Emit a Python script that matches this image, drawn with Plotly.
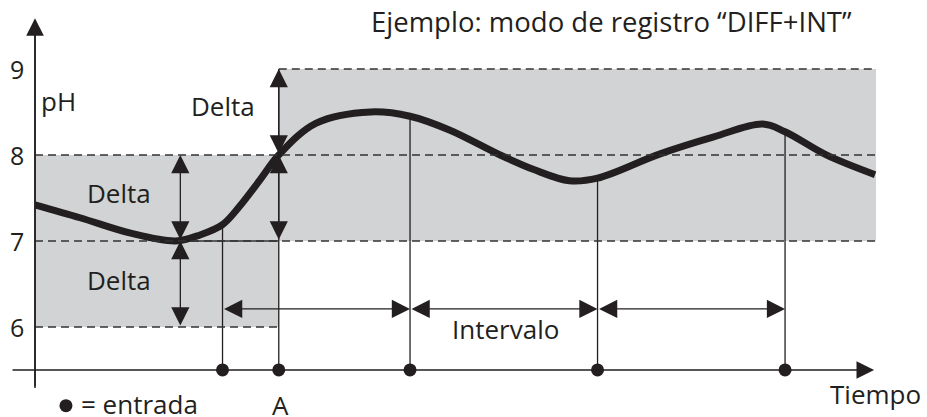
"""
pH logging diagram (DIFF+INT mode) drawn with Plotly
"""

import plotly.graph_objects as go

# pH curve (time in arbitrary units, pH)
curve_t = [0, 2.4, 5.1, 7.5, 8.8, 10, 10.9, 12, 13, 15, 17.9, 20, 22.1,
           24.8, 26.6, 28.5, 30, 33.3, 36.2, 38.8, 40, 42.2, 44.8]
curve_ph = [7.42, 7.27, 7.09, 7.0, 7.07, 7.19, 7.40, 7.71, 8.0, 8.37, 8.5,
            8.45, 8.29, 8.0, 7.83, 7.7, 7.73, 8.01, 8.21, 8.36, 8.27, 8.0, 7.77]

# logged entries (time) and where their marker line ends (pH)
entry_t = [10, 13, 20, 30, 40]
entry_top = [7.19, 9.0, 8.45, 7.73, 8.27]
interval_t = [10, 20, 30, 40]

# delta bands
band_low = dict(t0=0, t1=13, ph0=6, ph1=8)
band_high = dict(t0=13, t1=44.85, ph0=7, ph1=9)
levels = [6, 7, 8, 9]
delta_left_t = 7.75
delta_a_t = 13

tick_labels = ["6", "7", "8", "9"]

t_axis_ph = 5.5
INK = "#231f20"
DASH = "#333333"
GRAY = "#d1d3d4"
FONT = "Open Sans"
FS = 26

fig = go.Figure()

# gray bands
for b in (band_low, band_high):
    fig.add_shape(type="rect", x0=b["t0"], x1=b["t1"], y0=b["ph0"], y1=b["ph1"],
                  fillcolor=GRAY, line_width=0, layer="below")

# dashed delta levels
dash_spans = {6: (0, 13), 7: (0, 44.85), 8: (0, 44.85), 9: (13, 44.85)}
for lv in levels:
    t0, t1 = dash_spans[lv]
    fig.add_shape(type="line", x0=t0, x1=t1, y0=lv, y1=lv,
                  line=dict(color=DASH, width=1.5, dash="8px,5px"))
# solid bit of the lower band edge under the curve
fig.add_shape(type="line", x0=8.3, x1=13, y0=7, y1=7,
              line=dict(color=DASH, width=1.5))

# vertical lines of the logged entries
vx, vy = [], []
for t, top in zip(entry_t, entry_top):
    vx += [t, t, None]
    vy += [t_axis_ph, top, None]
fig.add_trace(go.Scatter(x=vx, y=vy, mode="lines",
                         line=dict(color=INK, width=1.3),
                         showlegend=False, hoverinfo="skip"))

# the pH curve
fig.add_trace(go.Scatter(x=curve_t, y=curve_ph, mode="lines",
                         line=dict(color=INK, width=7, shape="spline", smoothing=1.0),
                         showlegend=False, hoverinfo="skip"))

# entry dots on the time axis
fig.add_trace(go.Scatter(x=entry_t, y=[t_axis_ph] * len(entry_t), mode="markers",
                         marker=dict(color=INK, size=13),
                         showlegend=False, hoverinfo="skip"))


def arrow(x0, y0, x1, y1, both=True, width=1.3, size=2.8):
    fig.add_annotation(x=x1, y=y1, ax=x0, ay=y0, xref="x", yref="y",
                       axref="x", ayref="y", text="", showarrow=True,
                       arrowhead=2, arrowsize=size, arrowwidth=width,
                       arrowcolor=INK,
                       arrowside="end+start" if both else "end",
                       startarrowhead=2, startarrowsize=size)


# delta arrows
for lo, hi in [(7, 8), (8, 9)]:
    arrow(delta_a_t, lo, delta_a_t, hi)
for lo, hi in [(6, 7), (7, 8)]:
    arrow(delta_left_t, lo, delta_left_t, hi)

# interval arrows
interval_ph = 6.21
for a, b in zip(interval_t[:-1], interval_t[1:]):
    arrow(a, interval_ph, b, interval_ph)

# axes
fig.add_shape(type="line", x0=0, x1=0, y0=5.29, y1=9.4,
              line=dict(color="#333333", width=1.6))
arrow(0, 5.29, 0, 9.59, both=False, width=1.6, size=2.2)
arrow(-1.28, t_axis_ph, 44.75, t_axis_ph, both=False, width=1.6, size=2.2)

# tick labels
for lab, lv in zip(tick_labels, levels):
    fig.add_annotation(x=-0.96, y=lv, text=lab, showarrow=False,
                       font=dict(family=FONT, size=25, color=INK))


def label(x, y, text, anchor="center", size=FS):
    fig.add_annotation(x=x, y=y, text=text, showarrow=False, xanchor=anchor,
                       font=dict(family=FONT, size=size, color=INK))


label(0.2, 8.63, "pH", anchor="left")
label(10.03, 8.57, "Delta")
label(4.48, 7.56, "Delta")
label(4.48, 6.55, "Delta")
label(25.07, 5.98, "Intervalo")
label(44.8, 5.22, "Tiempo")
label(13.07, 5.095, "A")
label(2.35, 5.11, "= entrada", anchor="left")
label(30.77, 9.55, "Ejemplo: modo de registro \u201cDIFF+INT\u201d", size=27.5)

# legend dot
fig.add_trace(go.Scatter(x=[1.65], y=[5.085], mode="markers",
                         marker=dict(color=INK, size=13),
                         showlegend=False, hoverinfo="skip"))

fig.update_layout(
    width=927, height=417,
    margin=dict(l=0, r=0, t=0, b=0),
    plot_bgcolor="white", paper_bgcolor="white",
    xaxis=dict(range=[-1.867, 47.57], visible=False),
    yaxis=dict(range=[4.953, 9.802], visible=False),
    showlegend=False,
)

# drop the default page margin so the figure fills the window
fig.write_html("out.html", config={"displayModeBar": False},
               post_script="document.body.style.margin='0';")
